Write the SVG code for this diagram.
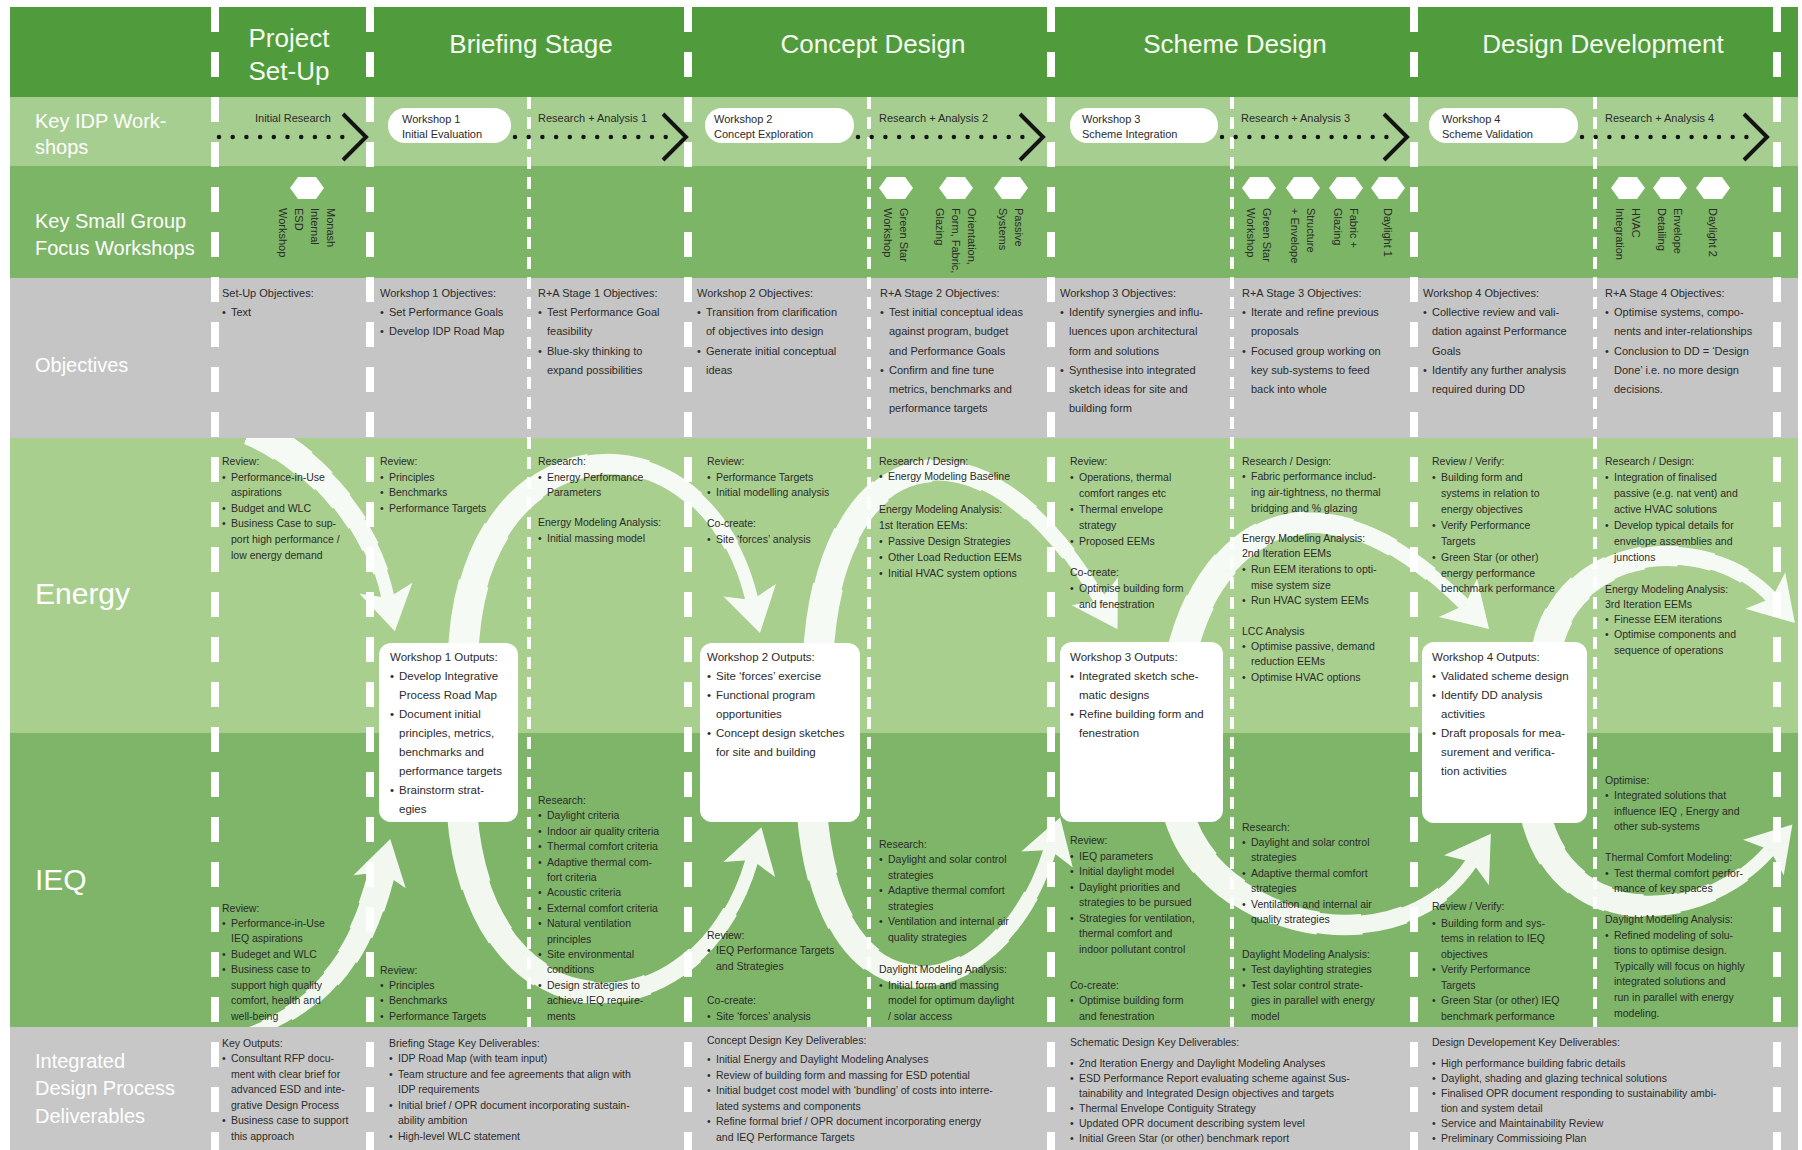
<svg xmlns="http://www.w3.org/2000/svg" xmlns:xlink="http://www.w3.org/1999/xlink" width="1802" height="1150" viewBox="0 0 1802 1150">
<defs>
<style>
.tx{font-family:"Liberation Sans",Arial,sans-serif;fill:#2b2b2b}
.s11{font-size:11px}
.s105{font-size:10.5px}
.s115{font-size:11.5px}
.lab{font-family:"Liberation Sans",Arial,sans-serif;fill:#ffffff;font-size:20px}
.big{font-size:30px}
.hd{font-family:"Liberation Sans",Arial,sans-serif;fill:#f5faf0;font-size:26px;text-anchor:middle}
.thick{stroke:#ffffff;stroke-width:8;stroke-dasharray:25 20;fill:none}
.thin{stroke:#ffffff;stroke-width:4;stroke-dasharray:12 8;fill:none}
.dots{stroke:#141414;stroke-width:4.5;stroke-linecap:round;stroke-dasharray:0 13.7;fill:none}
.chev{fill:none;stroke:#141414;stroke-width:4}
.pill{fill:#ffffff}
.box{fill:#ffffff}
.hex{fill:#ffffff}
.vt{font-family:"Liberation Sans",Arial,sans-serif;font-size:11px;fill:#2b2b2b}
.flow{fill:none;stroke:#ffffff}
.w0{stroke-width:13;marker-end:url(#head)}
.w1{stroke-width:15.5;stroke-dasharray:88 200}
.w2{stroke-width:18;stroke-dasharray:76 200}
.w3{stroke-width:20.5;stroke-dasharray:64 200}
.w4{stroke-width:23;stroke-dasharray:52 200}
.w5{stroke-width:25.5;stroke-dasharray:40 200}
.w6{stroke-width:28;stroke-dasharray:28 200}
.w7{stroke-width:30.5;stroke-dasharray:16 200}
.r0{stroke-width:10;marker-end:url(#head)}
.r1{stroke-width:12.5;stroke-dasharray:0 12 200}
.r2{stroke-width:15;stroke-dasharray:0 24 200}
.r3{stroke-width:17.5;stroke-dasharray:0 36 200}
.r4{stroke-width:20;stroke-dasharray:0 48 200}
.r5{stroke-width:22.5;stroke-dasharray:0 60 200}
.r6{stroke-width:25;stroke-dasharray:0 72 200}
.r7{stroke-width:27;stroke-dasharray:0 84 200}
</style>
<marker id="head" markerUnits="userSpaceOnUse" markerWidth="60" markerHeight="70" viewBox="-15 -35 60 70" refX="0" refY="0" orient="auto">
<path d="M0 0 L-10 -27 L34 0 L-10 27 Z" fill="#ffffff"/>
</marker>
<clipPath id="flowClip"><rect x="10" y="438" width="1788" height="589"/></clipPath>
<polygon id="hexShape" points="-17,0 -9,-11 9,-11 17,0 9,11 -9,11"/>
<!-- swoosh centrelines: energy arcs go over the top, IEQ arcs dip below -->
<path id="arcA" pathLength="100" d="M 250 430 C 310 455 372 520 388 598"/>
<path id="arcB" pathLength="100" d="M 463 660 C 468 415 705 405 752 600"/>
<path id="arcC" pathLength="100" d="M 818 660 C 828 440 980 400 1100 600"/>
<path id="arcD" pathLength="100" d="M 1180 660 C 1210 525 1320 460 1465 605"/>
<path id="arcE" pathLength="100" d="M 1545 660 C 1560 540 1710 530 1772 598"/>
<path id="arcF" pathLength="100" d="M 238 1036 C 320 1010 360 960 382 872"/>
<path id="arcG" pathLength="100" d="M 462 812 C 480 1050 700 1040 752 860"/>
<path id="arcH" pathLength="100" d="M 812 812 C 830 1040 1000 1010 1050 850"/>
<path id="arcI" pathLength="100" d="M 1178 812 C 1210 930 1400 970 1472 862"/>
<path id="arcJ" pathLength="100" d="M 1535 812 C 1560 930 1700 930 1770 850"/>
</defs>

<rect width="1802" height="1150" fill="#ffffff"/>

<!-- horizontal bands -->
<g id="bands">
<rect x="10" y="7" width="1788" height="90" fill="#509c3c"/>
<rect x="10" y="97" width="1788" height="69" fill="#a6ce90"/>
<rect x="10" y="166" width="1788" height="112" fill="#7cb566"/>
<rect x="10" y="278" width="1788" height="160" fill="#c5c5c5"/>
<rect x="10" y="438" width="1788" height="295" fill="#a9cf8f"/>
<rect x="10" y="733" width="1788" height="294" fill="#7eb568"/>
<rect x="10" y="1027" width="1788" height="123" fill="#c7c7c7"/>
</g>

<!-- row labels -->
<g id="row-labels">
<text class="lab"><tspan x="35" y="128">Key IDP Work-</tspan><tspan x="35" y="154">shops</tspan></text>
<text class="lab"><tspan x="35" y="228">Key Small Group</tspan><tspan x="35" y="255">Focus Workshops</tspan></text>
<text class="lab" x="35" y="372">Objectives</text>
<text class="lab big" x="35" y="604">Energy</text>
<text class="lab big" x="35" y="890">IEQ</text>
<text class="lab"><tspan x="35" y="1068">Integrated</tspan><tspan x="35" y="1095">Design Process</tspan><tspan x="35" y="1123">Deliverables</tspan></text>
</g>

<!-- stage titles -->
<g id="stage-titles">
<text class="hd"><tspan x="289" y="47">Project</tspan><tspan x="289" y="80">Set-Up</tspan></text>
<text class="hd" x="531" y="53">Briefing Stage</text>
<text class="hd" x="873" y="53">Concept Design</text>
<text class="hd" x="1235" y="53">Scheme Design</text>
<text class="hd" x="1603" y="53">Design Development</text>
</g>

<!-- stage and sub-stage dividers -->
<g id="gridlines">
<line class="thick" x1="215" y1="7" x2="215" y2="1150"/>
<line class="thick" x1="370" y1="7" x2="370" y2="1150"/>
<line class="thick" x1="688" y1="7" x2="688" y2="1150"/>
<line class="thick" x1="1051" y1="7" x2="1051" y2="1150"/>
<line class="thick" x1="1414" y1="7" x2="1414" y2="1150"/>
<line class="thick" x1="1777" y1="7" x2="1777" y2="1150"/>
<line class="thin" x1="529" y1="97" x2="529" y2="1027"/>
<line class="thin" x1="869" y1="97" x2="869" y2="1027"/>
<line class="thin" x1="1232" y1="97" x2="1232" y2="1027"/>
<line class="thin" x1="1595" y1="97" x2="1595" y2="1027"/>
</g>

<!-- connectors -->
<g id="connectors">
<g id="idp-timeline">
<line class="dots" x1="219" y1="137" x2="352" y2="137"/>
<polyline class="chev" points="343,114 366,137 343,160"/>
<line class="dots" x1="515" y1="137" x2="675" y2="137"/>
<polyline class="chev" points="663,114 686,137 663,160"/>
<line class="dots" x1="858" y1="137" x2="1033" y2="137"/>
<polyline class="chev" points="1020,114 1043,137 1020,160"/>
<line class="dots" x1="1222" y1="137" x2="1397" y2="137"/>
<polyline class="chev" points="1384,114 1407,137 1384,160"/>
<line class="dots" x1="1582" y1="137" x2="1757" y2="137"/>
<polyline class="chev" points="1744,114 1767,137 1744,160"/>
</g>
<g id="flows" clip-path="url(#flowClip)" opacity="0.9">
<g class="flow">
<use xlink:href="#arcA" class="w0"/><use xlink:href="#arcA" class="w1"/><use xlink:href="#arcA" class="w2"/><use xlink:href="#arcA" class="w3"/><use xlink:href="#arcA" class="w4"/><use xlink:href="#arcA" class="w5"/><use xlink:href="#arcA" class="w6"/><use xlink:href="#arcA" class="w7"/>
<use xlink:href="#arcB" class="w0"/><use xlink:href="#arcB" class="w1"/><use xlink:href="#arcB" class="w2"/><use xlink:href="#arcB" class="w3"/><use xlink:href="#arcB" class="w4"/><use xlink:href="#arcB" class="w5"/><use xlink:href="#arcB" class="w6"/><use xlink:href="#arcB" class="w7"/>
<use xlink:href="#arcC" class="w0"/><use xlink:href="#arcC" class="w1"/><use xlink:href="#arcC" class="w2"/><use xlink:href="#arcC" class="w3"/><use xlink:href="#arcC" class="w4"/><use xlink:href="#arcC" class="w5"/><use xlink:href="#arcC" class="w6"/><use xlink:href="#arcC" class="w7"/>
<use xlink:href="#arcD" class="w0"/><use xlink:href="#arcD" class="w1"/><use xlink:href="#arcD" class="w2"/><use xlink:href="#arcD" class="w3"/><use xlink:href="#arcD" class="w4"/><use xlink:href="#arcD" class="w5"/><use xlink:href="#arcD" class="w6"/><use xlink:href="#arcD" class="w7"/>
<use xlink:href="#arcE" class="w0"/><use xlink:href="#arcE" class="w1"/><use xlink:href="#arcE" class="w2"/><use xlink:href="#arcE" class="w3"/><use xlink:href="#arcE" class="w4"/><use xlink:href="#arcE" class="w5"/><use xlink:href="#arcE" class="w6"/><use xlink:href="#arcE" class="w7"/>
<use xlink:href="#arcF" class="r0"/><use xlink:href="#arcF" class="r1"/><use xlink:href="#arcF" class="r2"/><use xlink:href="#arcF" class="r3"/><use xlink:href="#arcF" class="r4"/><use xlink:href="#arcF" class="r5"/><use xlink:href="#arcF" class="r6"/><use xlink:href="#arcF" class="r7"/>
<use xlink:href="#arcG" class="w0"/><use xlink:href="#arcG" class="w1"/><use xlink:href="#arcG" class="w2"/><use xlink:href="#arcG" class="w3"/><use xlink:href="#arcG" class="w4"/><use xlink:href="#arcG" class="w5"/><use xlink:href="#arcG" class="w6"/><use xlink:href="#arcG" class="w7"/>
<use xlink:href="#arcH" class="w0"/><use xlink:href="#arcH" class="w1"/><use xlink:href="#arcH" class="w2"/><use xlink:href="#arcH" class="w3"/><use xlink:href="#arcH" class="w4"/><use xlink:href="#arcH" class="w5"/><use xlink:href="#arcH" class="w6"/><use xlink:href="#arcH" class="w7"/>
<use xlink:href="#arcI" class="w0"/><use xlink:href="#arcI" class="w1"/><use xlink:href="#arcI" class="w2"/><use xlink:href="#arcI" class="w3"/><use xlink:href="#arcI" class="w4"/><use xlink:href="#arcI" class="w5"/><use xlink:href="#arcI" class="w6"/><use xlink:href="#arcI" class="w7"/>
<use xlink:href="#arcJ" class="w0"/><use xlink:href="#arcJ" class="w1"/><use xlink:href="#arcJ" class="w2"/><use xlink:href="#arcJ" class="w3"/><use xlink:href="#arcJ" class="w4"/><use xlink:href="#arcJ" class="w5"/><use xlink:href="#arcJ" class="w6"/><use xlink:href="#arcJ" class="w7"/>
</g>
</g>
</g>

<!-- IDP workshop labels and pills -->
<g id="idp-initial-research">
<text class="tx s11" x="255" y="122">Initial Research</text>
</g>
<g id="pill-workshop-1">
<rect class="pill" x="388" y="108" width="123" height="35" rx="17"/>
<text class="tx s11"><tspan x="402" y="123">Workshop 1</tspan><tspan x="402" y="138">Initial Evaluation</tspan></text>
</g>
<g id="idp-ra1"><text class="tx s11" x="538" y="122">Research + Analysis 1</text></g>
<g id="pill-workshop-2">
<rect class="pill" x="705" y="108" width="149" height="35" rx="17"/>
<text class="tx s11"><tspan x="714" y="123">Workshop 2</tspan><tspan x="714" y="138">Concept Exploration</tspan></text>
</g>
<g id="idp-ra2"><text class="tx s11" x="879" y="122">Research + Analysis 2</text></g>
<g id="pill-workshop-3">
<rect class="pill" x="1070" y="108" width="148" height="35" rx="17"/>
<text class="tx s11"><tspan x="1082" y="123">Workshop 3</tspan><tspan x="1082" y="138">Scheme Integration</tspan></text>
</g>
<g id="idp-ra3"><text class="tx s11" x="1241" y="122">Research + Analysis 3</text></g>
<g id="pill-workshop-4">
<rect class="pill" x="1429" y="108" width="149" height="35" rx="17"/>
<text class="tx s11"><tspan x="1442" y="123">Workshop 4</tspan><tspan x="1442" y="138">Scheme Validation</tspan></text>
</g>
<g id="idp-ra4"><text class="tx s11" x="1605" y="122">Research + Analysis 4</text></g>

<!-- small group focus workshops -->
<g id="focus-monash">
<use xlink:href="#hexShape" class="hex" x="307" y="188"/>
<text class="vt" transform="translate(327,208) rotate(90)"><tspan x="0" y="0">Monash</tspan><tspan x="0" y="16">Internal</tspan><tspan x="0" y="32">ESD</tspan><tspan x="0" y="48">Workshop</tspan></text>
</g>
<g id="focus-greenstar-1">
<use xlink:href="#hexShape" class="hex" x="896" y="188"/>
<text class="vt" transform="translate(900,208) rotate(90)"><tspan x="0" y="0">Green Star</tspan><tspan x="0" y="16">Workshop</tspan></text>
</g>
<g id="focus-orientation">
<use xlink:href="#hexShape" class="hex" x="956" y="188"/>
<text class="vt" transform="translate(968,208) rotate(90)"><tspan x="0" y="0">Orientation,</tspan><tspan x="0" y="16">Form, Fabric,</tspan><tspan x="0" y="32">Glazing</tspan></text>
</g>
<g id="focus-passive">
<use xlink:href="#hexShape" class="hex" x="1011" y="188"/>
<text class="vt" transform="translate(1015,208) rotate(90)"><tspan x="0" y="0">Passive</tspan><tspan x="0" y="16">Systems</tspan></text>
</g>
<g id="focus-greenstar-2">
<use xlink:href="#hexShape" class="hex" x="1259" y="188"/>
<text class="vt" transform="translate(1263,208) rotate(90)"><tspan x="0" y="0">Green Star</tspan><tspan x="0" y="16">Workshop</tspan></text>
</g>
<g id="focus-structure">
<use xlink:href="#hexShape" class="hex" x="1303" y="188"/>
<text class="vt" transform="translate(1307,208) rotate(90)"><tspan x="0" y="0">Structure</tspan><tspan x="0" y="16">+ Envelope</tspan></text>
</g>
<g id="focus-fabric">
<use xlink:href="#hexShape" class="hex" x="1346" y="188"/>
<text class="vt" transform="translate(1350,208) rotate(90)"><tspan x="0" y="0">Fabric +</tspan><tspan x="0" y="16">Glazing</tspan></text>
</g>
<g id="focus-daylight-1">
<use xlink:href="#hexShape" class="hex" x="1388" y="188"/>
<text class="vt" transform="translate(1384,208) rotate(90)">Daylight 1</text>
</g>
<g id="focus-hvac">
<use xlink:href="#hexShape" class="hex" x="1628" y="188"/>
<text class="vt" transform="translate(1632,208) rotate(90)"><tspan x="0" y="0">HVAC</tspan><tspan x="0" y="16">Integration</tspan></text>
</g>
<g id="focus-envelope">
<use xlink:href="#hexShape" class="hex" x="1670" y="188"/>
<text class="vt" transform="translate(1674,208) rotate(90)"><tspan x="0" y="0">Envelope</tspan><tspan x="0" y="16">Detailing</tspan></text>
</g>
<g id="focus-daylight-2">
<use xlink:href="#hexShape" class="hex" x="1713" y="188"/>
<text class="vt" transform="translate(1709,208) rotate(90)">Daylight 2</text>
</g>

<!-- objectives row -->
<g id="objectives">
<text class="tx s11"><tspan x="222" y="297">Set-Up Objectives:</tspan><tspan x="222" y="316">•</tspan><tspan x="231" y="316">Text</tspan></text>
<text class="tx s11"><tspan x="380" y="297">Workshop 1 Objectives:</tspan><tspan x="380" y="316">•</tspan><tspan x="389" y="316">Set Performance Goals</tspan><tspan x="380" y="335">•</tspan><tspan x="389" y="335">Develop IDP Road Map</tspan></text>
<text class="tx s11"><tspan x="538" y="297">R+A Stage 1 Objectives:</tspan><tspan x="538" y="316">•</tspan><tspan x="547" y="316">Test Performance Goal</tspan><tspan x="547" y="335">feasibility</tspan><tspan x="538" y="355">•</tspan><tspan x="547" y="355">Blue-sky thinking to</tspan><tspan x="547" y="374">expand possibilities</tspan></text>
<text class="tx s11"><tspan x="697" y="297">Workshop 2 Objectives:</tspan><tspan x="697" y="316">•</tspan><tspan x="706" y="316">Transition from clarification</tspan><tspan x="706" y="335">of objectives into design</tspan><tspan x="697" y="355">•</tspan><tspan x="706" y="355">Generate initial conceptual</tspan><tspan x="706" y="374">ideas</tspan></text>
<text class="tx s11"><tspan x="880" y="297">R+A Stage 2 Objectives:</tspan><tspan x="880" y="316">•</tspan><tspan x="889" y="316">Test initial conceptual ideas</tspan><tspan x="889" y="335">against program, budget</tspan><tspan x="889" y="355">and Performance Goals</tspan><tspan x="880" y="374">•</tspan><tspan x="889" y="374">Confirm and fine tune</tspan><tspan x="889" y="393">metrics, benchmarks and</tspan><tspan x="889" y="412">performance targets</tspan></text>
<text class="tx s11"><tspan x="1060" y="297">Workshop 3 Objectives:</tspan><tspan x="1060" y="316">•</tspan><tspan x="1069" y="316">Identify synergies and influ-</tspan><tspan x="1069" y="335">luences upon architectural</tspan><tspan x="1069" y="355">form and solutions</tspan><tspan x="1060" y="374">•</tspan><tspan x="1069" y="374">Synthesise into integrated</tspan><tspan x="1069" y="393">sketch ideas for site and</tspan><tspan x="1069" y="412">building form</tspan></text>
<text class="tx s11"><tspan x="1242" y="297">R+A Stage 3 Objectives:</tspan><tspan x="1242" y="316">•</tspan><tspan x="1251" y="316">Iterate and refine previous</tspan><tspan x="1251" y="335">proposals</tspan><tspan x="1242" y="355">•</tspan><tspan x="1251" y="355">Focused group working on</tspan><tspan x="1251" y="374">key sub-systems to feed</tspan><tspan x="1251" y="393">back into whole</tspan></text>
<text class="tx s11"><tspan x="1423" y="297">Workshop 4 Objectives:</tspan><tspan x="1423" y="316">•</tspan><tspan x="1432" y="316">Collective review and vali-</tspan><tspan x="1432" y="335">dation against Performance</tspan><tspan x="1432" y="355">Goals</tspan><tspan x="1423" y="374">•</tspan><tspan x="1432" y="374">Identify any further analysis</tspan><tspan x="1432" y="393">required during DD</tspan></text>
<text class="tx s11"><tspan x="1605" y="297">R+A Stage 4 Objectives:</tspan><tspan x="1605" y="316">•</tspan><tspan x="1614" y="316">Optimise systems, compo-</tspan><tspan x="1614" y="335">nents and inter-relationships</tspan><tspan x="1605" y="355">•</tspan><tspan x="1614" y="355">Conclusion to DD = ‘Design</tspan><tspan x="1614" y="374">Done’ i.e. no more design</tspan><tspan x="1614" y="393">decisions.</tspan></text>
</g>

<!-- workshop output boxes -->
<g id="ws1-outputs">
<rect class="box" x="379" y="643" width="139" height="179" rx="12"/>
<text class="tx s115"><tspan x="390" y="661">Workshop 1 Outputs:</tspan><tspan x="390" y="680">•</tspan><tspan x="399" y="680">Develop Integrative</tspan><tspan x="399" y="699">Process Road Map</tspan><tspan x="390" y="718">•</tspan><tspan x="399" y="718">Document initial</tspan><tspan x="399" y="737">principles, metrics,</tspan><tspan x="399" y="756">benchmarks and</tspan><tspan x="399" y="775">performance targets</tspan><tspan x="390" y="794">•</tspan><tspan x="399" y="794">Brainstorm strat-</tspan><tspan x="399" y="813">egies</tspan></text>
</g>
<g id="ws2-outputs">
<rect class="box" x="700" y="643" width="160" height="179" rx="12"/>
<text class="tx s115"><tspan x="707" y="661">Workshop 2 Outputs:</tspan><tspan x="707" y="680">•</tspan><tspan x="716" y="680">Site ‘forces’ exercise</tspan><tspan x="707" y="699">•</tspan><tspan x="716" y="699">Functional program</tspan><tspan x="716" y="718">opportunities</tspan><tspan x="707" y="737">•</tspan><tspan x="716" y="737">Concept design sketches</tspan><tspan x="716" y="756">for site and building</tspan></text>
</g>
<g id="ws3-outputs">
<rect class="box" x="1060" y="642" width="163" height="180" rx="12"/>
<text class="tx s115"><tspan x="1070" y="661">Workshop 3 Outputs:</tspan><tspan x="1070" y="680">•</tspan><tspan x="1079" y="680">Integrated sketch sche-</tspan><tspan x="1079" y="699">matic designs</tspan><tspan x="1070" y="718">•</tspan><tspan x="1079" y="718">Refine building form and</tspan><tspan x="1079" y="737">fenestration</tspan></text>
</g>
<g id="ws4-outputs">
<rect class="box" x="1422" y="642" width="165" height="181" rx="12"/>
<text class="tx s115"><tspan x="1432" y="661">Workshop 4 Outputs:</tspan><tspan x="1432" y="680">•</tspan><tspan x="1441" y="680">Validated scheme design</tspan><tspan x="1432" y="699">•</tspan><tspan x="1441" y="699">Identify DD analysis</tspan><tspan x="1441" y="718">activities</tspan><tspan x="1432" y="737">•</tspan><tspan x="1441" y="737">Draft proposals for mea-</tspan><tspan x="1441" y="756">surement and verifica-</tspan><tspan x="1441" y="775">tion activities</tspan></text>
</g>

<!-- energy row -->
<g id="energy">
<text class="tx s105"><tspan x="222" y="465">Review:</tspan><tspan x="222" y="481">•</tspan><tspan x="231" y="481">Performance-in-Use</tspan><tspan x="231" y="496">aspirations</tspan><tspan x="222" y="512">•</tspan><tspan x="231" y="512">Budget and WLC</tspan><tspan x="222" y="527">•</tspan><tspan x="231" y="527">Business Case to sup-</tspan><tspan x="231" y="543">port high performance /</tspan><tspan x="231" y="559">low energy demand</tspan></text>
<text class="tx s105"><tspan x="380" y="465">Review:</tspan><tspan x="380" y="481">•</tspan><tspan x="389" y="481">Principles</tspan><tspan x="380" y="496">•</tspan><tspan x="389" y="496">Benchmarks</tspan><tspan x="380" y="512">•</tspan><tspan x="389" y="512">Performance Targets</tspan></text>
<text class="tx s105"><tspan x="538" y="465">Research:</tspan><tspan x="538" y="481">•</tspan><tspan x="547" y="481">Energy Performance</tspan><tspan x="547" y="496">Parameters</tspan><tspan x="538" y="526">Energy Modeling Analysis:</tspan><tspan x="538" y="542">•</tspan><tspan x="547" y="542">Initial massing model</tspan></text>
<text class="tx s105"><tspan x="707" y="465">Review:</tspan><tspan x="707" y="481">•</tspan><tspan x="716" y="481">Performance Targets</tspan><tspan x="707" y="496">•</tspan><tspan x="716" y="496">Initial modelling analysis</tspan><tspan x="707" y="527">Co-create:</tspan><tspan x="707" y="543">•</tspan><tspan x="716" y="543">Site ‘forces’ analysis</tspan></text>
<text class="tx s105"><tspan x="879" y="465">Research / Design:</tspan><tspan x="879" y="480">•</tspan><tspan x="888" y="480">Energy Modeling Baseline</tspan><tspan x="879" y="513">Energy Modeling Analysis:</tspan><tspan x="879" y="529">1st Iteration EEMs:</tspan><tspan x="879" y="545">•</tspan><tspan x="888" y="545">Passive Design Strategies</tspan><tspan x="879" y="561">•</tspan><tspan x="888" y="561">Other Load Reduction EEMs</tspan><tspan x="879" y="577">•</tspan><tspan x="888" y="577">Initial HVAC system options</tspan></text>
<text class="tx s105"><tspan x="1070" y="465">Review:</tspan><tspan x="1070" y="481">•</tspan><tspan x="1079" y="481">Operations, thermal</tspan><tspan x="1079" y="497">comfort ranges etc</tspan><tspan x="1070" y="513">•</tspan><tspan x="1079" y="513">Thermal envelope</tspan><tspan x="1079" y="529">strategy</tspan><tspan x="1070" y="545">•</tspan><tspan x="1079" y="545">Proposed EEMs</tspan><tspan x="1070" y="576">Co-create:</tspan><tspan x="1070" y="592">•</tspan><tspan x="1079" y="592">Optimise building form</tspan><tspan x="1079" y="608">and fenestration</tspan></text>
<text class="tx s105"><tspan x="1242" y="465">Research / Design:</tspan><tspan x="1242" y="480">•</tspan><tspan x="1251" y="480">Fabric performance includ-</tspan><tspan x="1251" y="496">ing air-tightness, no thermal</tspan><tspan x="1251" y="512">bridging and % glazing</tspan><tspan x="1242" y="542">Energy Modeling Analysis:</tspan><tspan x="1242" y="557">2nd Iteration EEMs</tspan><tspan x="1242" y="573">•</tspan><tspan x="1251" y="573">Run EEM iterations to opti-</tspan><tspan x="1251" y="589">mise system size</tspan><tspan x="1242" y="604">•</tspan><tspan x="1251" y="604">Run HVAC system EEMs</tspan><tspan x="1242" y="635">LCC Analysis</tspan><tspan x="1242" y="650">•</tspan><tspan x="1251" y="650">Optimise passive, demand</tspan><tspan x="1251" y="665">reduction EEMs</tspan><tspan x="1242" y="681">•</tspan><tspan x="1251" y="681">Optimise HVAC options</tspan></text>
<text class="tx s105"><tspan x="1432" y="465">Review / Verify:</tspan><tspan x="1432" y="481">•</tspan><tspan x="1441" y="481">Building form and</tspan><tspan x="1441" y="497">systems in relation to</tspan><tspan x="1441" y="513">energy objectives</tspan><tspan x="1432" y="529">•</tspan><tspan x="1441" y="529">Verify Performance</tspan><tspan x="1441" y="545">Targets</tspan><tspan x="1432" y="561">•</tspan><tspan x="1441" y="561">Green Star (or other)</tspan><tspan x="1441" y="577">energy performance</tspan><tspan x="1441" y="592">benchmark performance</tspan></text>
<text class="tx s105"><tspan x="1605" y="465">Research / Design:</tspan><tspan x="1605" y="481">•</tspan><tspan x="1614" y="481">Integration of finalised</tspan><tspan x="1614" y="497">passive (e.g. nat vent) and</tspan><tspan x="1614" y="513">active HVAC solutions</tspan><tspan x="1605" y="529">•</tspan><tspan x="1614" y="529">Develop typical details for</tspan><tspan x="1614" y="545">envelope assemblies and</tspan><tspan x="1614" y="561">junctions</tspan><tspan x="1605" y="593">Energy Modeling Analysis:</tspan><tspan x="1605" y="608">3rd Iteration EEMs</tspan><tspan x="1605" y="623">•</tspan><tspan x="1614" y="623">Finesse EEM iterations</tspan><tspan x="1605" y="638">•</tspan><tspan x="1614" y="638">Optimise components and</tspan><tspan x="1614" y="654">sequence of operations</tspan></text>
</g>

<!-- IEQ row -->
<g id="ieq">
<text class="tx s105"><tspan x="222" y="912">Review:</tspan><tspan x="222" y="927">•</tspan><tspan x="231" y="927">Performance-in-Use</tspan><tspan x="231" y="942">IEQ aspirations</tspan><tspan x="222" y="958">•</tspan><tspan x="231" y="958">Budeget and WLC</tspan><tspan x="222" y="973">•</tspan><tspan x="231" y="973">Business case to</tspan><tspan x="231" y="989">support high quality</tspan><tspan x="231" y="1004">comfort, health and</tspan><tspan x="231" y="1020">well-being</tspan></text>
<text class="tx s105"><tspan x="380" y="974">Review:</tspan><tspan x="380" y="989">•</tspan><tspan x="389" y="989">Principles</tspan><tspan x="380" y="1004">•</tspan><tspan x="389" y="1004">Benchmarks</tspan><tspan x="380" y="1020">•</tspan><tspan x="389" y="1020">Performance Targets</tspan></text>
<text class="tx s105"><tspan x="538" y="804">Research:</tspan><tspan x="538" y="819">•</tspan><tspan x="547" y="819">Daylight criteria</tspan><tspan x="538" y="835">•</tspan><tspan x="547" y="835">Indoor air quality criteria</tspan><tspan x="538" y="850">•</tspan><tspan x="547" y="850">Thermal comfort criteria</tspan><tspan x="538" y="866">•</tspan><tspan x="547" y="866">Adaptive thermal com-</tspan><tspan x="547" y="881">fort criteria</tspan><tspan x="538" y="896">•</tspan><tspan x="547" y="896">Acoustic criteria</tspan><tspan x="538" y="912">•</tspan><tspan x="547" y="912">External comfort criteria</tspan><tspan x="538" y="927">•</tspan><tspan x="547" y="927">Natural ventilation</tspan><tspan x="547" y="943">principles</tspan><tspan x="538" y="958">•</tspan><tspan x="547" y="958">Site environmental</tspan><tspan x="547" y="973">conditions</tspan><tspan x="538" y="989">•</tspan><tspan x="547" y="989">Design strategies to</tspan><tspan x="547" y="1004">achieve IEQ require-</tspan><tspan x="547" y="1020">ments</tspan></text>
<text class="tx s105"><tspan x="707" y="939">Review:</tspan><tspan x="707" y="954">•</tspan><tspan x="716" y="954">IEQ Performance Targets</tspan><tspan x="716" y="970">and Strategies</tspan><tspan x="707" y="1004">Co-create:</tspan><tspan x="707" y="1020">•</tspan><tspan x="716" y="1020">Site ‘forces’ analysis</tspan></text>
<text class="tx s105"><tspan x="879" y="848">Research:</tspan><tspan x="879" y="863">•</tspan><tspan x="888" y="863">Daylight and solar control</tspan><tspan x="888" y="879">strategies</tspan><tspan x="879" y="894">•</tspan><tspan x="888" y="894">Adaptive thermal comfort</tspan><tspan x="888" y="910">strategies</tspan><tspan x="879" y="925">•</tspan><tspan x="888" y="925">Ventilation and internal air</tspan><tspan x="888" y="941">quality strategies</tspan><tspan x="879" y="973">Daylight Modeling Analysis:</tspan><tspan x="879" y="989">•</tspan><tspan x="888" y="989">Initial form and massing</tspan><tspan x="888" y="1004">model for optimum daylight</tspan><tspan x="888" y="1020">/ solar access</tspan></text>
<text class="tx s105"><tspan x="1070" y="844">Review:</tspan><tspan x="1070" y="860">•</tspan><tspan x="1079" y="860">IEQ parameters</tspan><tspan x="1070" y="875">•</tspan><tspan x="1079" y="875">Initial daylight model</tspan><tspan x="1070" y="891">•</tspan><tspan x="1079" y="891">Daylight priorities and</tspan><tspan x="1079" y="906">strategies to be pursued</tspan><tspan x="1070" y="922">•</tspan><tspan x="1079" y="922">Strategies for ventilation,</tspan><tspan x="1079" y="937">thermal comfort and</tspan><tspan x="1079" y="953">indoor pollutant control</tspan><tspan x="1070" y="989">Co-create:</tspan><tspan x="1070" y="1004">•</tspan><tspan x="1079" y="1004">Optimise building form</tspan><tspan x="1079" y="1020">and fenestration</tspan></text>
<text class="tx s105"><tspan x="1242" y="831">Research:</tspan><tspan x="1242" y="846">•</tspan><tspan x="1251" y="846">Daylight and solar control</tspan><tspan x="1251" y="861">strategies</tspan><tspan x="1242" y="877">•</tspan><tspan x="1251" y="877">Adaptive thermal comfort</tspan><tspan x="1251" y="892">strategies</tspan><tspan x="1242" y="908">•</tspan><tspan x="1251" y="908">Ventilation and internal air</tspan><tspan x="1251" y="923">quality strategies</tspan><tspan x="1242" y="958">Daylight Modeling Analysis:</tspan><tspan x="1242" y="973">•</tspan><tspan x="1251" y="973">Test daylighting strategies</tspan><tspan x="1242" y="989">•</tspan><tspan x="1251" y="989">Test solar control strate-</tspan><tspan x="1251" y="1004">gies in parallel with energy</tspan><tspan x="1251" y="1020">model</tspan></text>
<text class="tx s105"><tspan x="1432" y="910">Review / Verify:</tspan><tspan x="1432" y="927">•</tspan><tspan x="1441" y="927">Building form and sys-</tspan><tspan x="1441" y="942">tems in relation to IEQ</tspan><tspan x="1441" y="958">objectives</tspan><tspan x="1432" y="973">•</tspan><tspan x="1441" y="973">Verify Performance</tspan><tspan x="1441" y="989">Targets</tspan><tspan x="1432" y="1004">•</tspan><tspan x="1441" y="1004">Green Star (or other) IEQ</tspan><tspan x="1441" y="1020">benchmark performance</tspan></text>
<text class="tx s105"><tspan x="1605" y="784">Optimise:</tspan><tspan x="1605" y="799">•</tspan><tspan x="1614" y="799">Integrated solutions that</tspan><tspan x="1614" y="815">influence IEQ , Energy and</tspan><tspan x="1614" y="830">other sub-systems</tspan><tspan x="1605" y="861">Thermal Comfort Modeling:</tspan><tspan x="1605" y="877">•</tspan><tspan x="1614" y="877">Test thermal comfort perfor-</tspan><tspan x="1614" y="892">mance of key spaces</tspan><tspan x="1605" y="923">Daylight Modeling Analysis:</tspan><tspan x="1605" y="939">•</tspan><tspan x="1614" y="939">Refined modeling of solu-</tspan><tspan x="1614" y="954">tions to optimise design.</tspan><tspan x="1614" y="970">Typically will focus on highly</tspan><tspan x="1614" y="985">integrated solutions and</tspan><tspan x="1614" y="1001">run in parallel with energy</tspan><tspan x="1614" y="1017">modeling.</tspan></text>
</g>

<!-- deliverables row -->
<g id="deliverables">
<text class="tx s105"><tspan x="222" y="1047">Key Outputs:</tspan><tspan x="222" y="1062">•</tspan><tspan x="231" y="1062">Consultant RFP docu-</tspan><tspan x="231" y="1078">ment with clear brief for</tspan><tspan x="231" y="1093">advanced ESD and inte-</tspan><tspan x="231" y="1109">grative Design Process</tspan><tspan x="222" y="1124">•</tspan><tspan x="231" y="1124">Business case to support</tspan><tspan x="231" y="1140">this approach</tspan></text>
<text class="tx s105"><tspan x="389" y="1047">Briefing Stage Key Deliverables:</tspan><tspan x="389" y="1062">•</tspan><tspan x="398" y="1062">IDP Road Map (with team input)</tspan><tspan x="389" y="1078">•</tspan><tspan x="398" y="1078">Team structure and fee agreements that align with</tspan><tspan x="398" y="1093">IDP requirements</tspan><tspan x="389" y="1109">•</tspan><tspan x="398" y="1109">Initial brief / OPR document incorporating sustain-</tspan><tspan x="398" y="1124">ability ambition</tspan><tspan x="389" y="1140">•</tspan><tspan x="398" y="1140">High-level WLC statement</tspan></text>
<text class="tx s105"><tspan x="707" y="1044">Concept Design Key Deliverables:</tspan><tspan x="707" y="1063">•</tspan><tspan x="716" y="1063">Initial Energy and Daylight Modeling Analyses</tspan><tspan x="707" y="1079">•</tspan><tspan x="716" y="1079">Review of building form and massing for ESD potential</tspan><tspan x="707" y="1094">•</tspan><tspan x="716" y="1094">Initial budget cost model with ‘bundling’ of costs into interre-</tspan><tspan x="716" y="1110">lated systems and components</tspan><tspan x="707" y="1125">•</tspan><tspan x="716" y="1125">Refine formal brief / OPR document incorporating energy</tspan><tspan x="716" y="1141">and IEQ Performance Targets</tspan></text>
<text class="tx s105"><tspan x="1070" y="1046">Schematic Design Key Deliverables:</tspan><tspan x="1070" y="1067">•</tspan><tspan x="1079" y="1067">2nd Iteration Energy and Daylight Modeling Analyses</tspan><tspan x="1070" y="1082">•</tspan><tspan x="1079" y="1082">ESD Performance Report evaluating scheme against Sus-</tspan><tspan x="1079" y="1097">tainability and Integrated Design objectives and targets</tspan><tspan x="1070" y="1112">•</tspan><tspan x="1079" y="1112">Thermal Envelope Contiguity Strategy</tspan><tspan x="1070" y="1127">•</tspan><tspan x="1079" y="1127">Updated OPR document describing system level</tspan><tspan x="1070" y="1142">•</tspan><tspan x="1079" y="1142">Initial Green Star (or other) benchmark report</tspan></text>
<text class="tx s105"><tspan x="1432" y="1046">Design Developement Key Deliverables:</tspan><tspan x="1432" y="1067">•</tspan><tspan x="1441" y="1067">High performance building  fabric details</tspan><tspan x="1432" y="1082">•</tspan><tspan x="1441" y="1082">Daylight, shading and glazing technical solutions</tspan><tspan x="1432" y="1097">•</tspan><tspan x="1441" y="1097">Finalised OPR document responding to sustainability ambi-</tspan><tspan x="1441" y="1112">tion and system detail</tspan><tspan x="1432" y="1127">•</tspan><tspan x="1441" y="1127">Service and Maintainability Review</tspan><tspan x="1432" y="1142">•</tspan><tspan x="1441" y="1142">Preliminary Commissioing Plan</tspan></text>
</g>
</svg>
